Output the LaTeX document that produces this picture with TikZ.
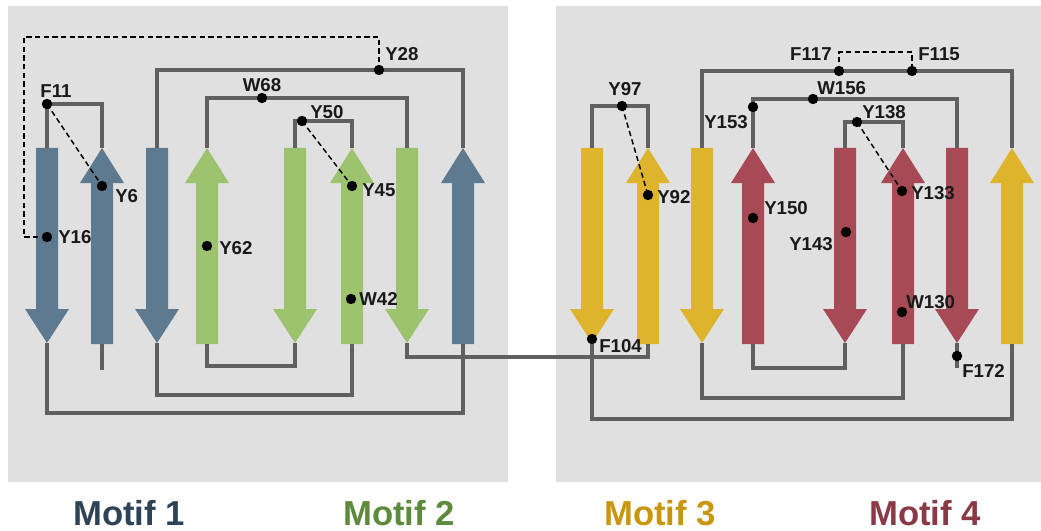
\documentclass[tikz,border=0pt]{standalone}
\usepackage{fontspec}
\setmainfont{Liberation Sans}
\definecolor{panel}{HTML}{E0E0E0}
\definecolor{sblue}{HTML}{5E7A91}
\definecolor{sgreen}{HTML}{9DC36F}
\definecolor{syellow}{HTML}{DDB42B}
\definecolor{sred}{HTML}{A84A55}
\definecolor{conncol}{HTML}{606060}
\definecolor{mone}{HTML}{2E4456}
\definecolor{mtwo}{HTML}{5E8A3C}
\definecolor{mthree}{HTML}{C9960E}
\definecolor{mfour}{HTML}{8A3A45}
\newcommand\strandU[3]{%
  \fill[#3] (#2-11,344) -- (#2-11,183) -- (#2-22,183) -- (#2,148) -- (#2+22,183) -- (#2+11,183) -- (#2+11,344) -- cycle;
  \coordinate (#1t) at (#2,148); \coordinate (#1b) at (#2,344);}
\newcommand\strandD[3]{%
  \fill[#3] (#2-11,148) -- (#2+11,148) -- (#2+11,309) -- (#2+22,309) -- (#2,343) -- (#2-22,309) -- (#2-11,309) -- cycle;
  \coordinate (#1t) at (#2,148); \coordinate (#1b) at (#2,343);}
\begin{document}
\begin{tikzpicture}[x=0.75pt,y=-0.75pt,
  conn/.style={draw=conncol,line width=3pt},
  dashline/.style={draw=black,line width=1.1pt,dash pattern=on 4pt off 2.5pt},
  dot/.style={circle,fill=black,inner sep=0pt,minimum size=7.8pt},
  lab/.style={inner sep=0pt,font=\bfseries\fontsize{14}{15}\selectfont,text=black!90},
  motif/.style={inner sep=0pt,font=\bfseries\fontsize{26}{28}\selectfont}]
\useasboundingbox (0,0) rectangle (1041,531);
\fill[white] (0,0) rectangle (1041,531);
\fill[panel] (8,6) rectangle (508,482);
\fill[panel] (556,6) rectangle (1041,482);
% strands left
\strandD{L1}{47}{sblue}
\strandU{L2}{102}{sblue}
\strandD{L3}{157}{sblue}
\strandU{L4}{207}{sgreen}
\strandD{L5}{295}{sgreen}
\strandU{L6}{352}{sgreen}
\strandD{L7}{407}{sgreen}
\strandU{L8}{463}{sblue}
% strands right
\strandD{R1}{592}{syellow}
\strandU{R2}{648}{syellow}
\strandD{R3}{702}{syellow}
\strandU{R4}{753}{sred}
\strandD{R5}{845}{sred}
\strandU{R6}{903}{sred}
\strandD{R7}{957}{sred}
\strandU{R8}{1012}{syellow}
% connectors left
\draw[conn] (L1t) -- ++(0,-44) -| (L2t);
\draw[conn] (L3t) -- ++(0,-78) -| (L8t);
\draw[conn] (L4t) -- ++(0,-50) -| (L7t);
\draw[conn] (L5t) -- ++(0,-27) -| (L6t);
\draw[conn] (L4b) -- ++(0,22) -| (L5b);
\draw[conn] (L3b) -- ++(0,52) -| (L6b);
\draw[conn] (L1b) -- ++(0,70) -| (L8b);
\coordinate (L2e) at (102,370);
\draw[conn] (L2b) -- (L2e);
\draw[conn] (L7b) -- ++(0,14) -| (R2b);
% connectors right
\draw[conn] (R1t) -- ++(0,-42) -| (R2t);
\draw[conn] (R3t) -- ++(0,-77) -| (R8t);
\draw[conn] (R4t) -- ++(0,-49) -| (R7t);
\draw[conn] (R5t) -- ++(0,-26) -| (R6t);
\draw[conn] (R4b) -- ++(0,24) -| (R5b);
\draw[conn] (R3b) -- ++(0,55) -| (R6b);
\draw[conn] (R1b) -- ++(0,76) -| (R8b);
\coordinate (R7e) at (957,368);
\draw[conn] (R7b) -- (R7e);
% dots
\node[dot] (dF11) at (47,104) {};
\node[dot] (dY6) at (102,186) {};
\node[dot] (dY16) at (47,237) {};
\node[dot] (dY28) at (379,70) {};
\node[dot] (dW68) at (262,98) {};
\node[dot] (dY50) at (302,121) {};
\node[dot] (dY45) at (352,186) {};
\node[dot] (dY62) at (207,246) {};
\node[dot] (dW42) at (351,299) {};
\node[dot] (dY97) at (622,106) {};
\node[dot] (dY92) at (648,195) {};
\node[dot] (dF117) at (839,71) {};
\node[dot] (dF115) at (912,71) {};
\node[dot] (dW156) at (813,99) {};
\node[dot] (dY153) at (753,107) {};
\node[dot] (dY138) at (857,122) {};
\node[dot] (dY133) at (902,191) {};
\node[dot] (dY150) at (753,218) {};
\node[dot] (dY143) at (846,232) {};
\node[dot] (dW130) at (902,312) {};
\node[dot] (dF104) at (592,339) {};
\node[dot] (dF172) at (957,356) {};
% dashed
\coordinate (k1) at (24,237);
\coordinate (k2) at (24,37);
\coordinate (k3) at (379,37);
\draw[dashline] (dY16.center) -- (k1) -- (k2) -- (k3) -- (dY28.center);
\draw[dashline] (dF11.center) -- (dY6.center);
\draw[dashline] (dY50.center) -- (dY45.center);
\draw[dashline] (dY97.center) -- (dY92.center);
\draw[dashline] (dY138.center) -- (dY133.center);
\coordinate (k4) at (839,52);
\coordinate (k5) at (912,52);
\draw[dashline] (dF117.center) -- (k4) -- (k5) -- (dF115.center);
% labels
\node[lab] (tF11) at (56,91) {F11};
\node[lab,anchor=west] (tY6) at (115,196) {Y6};
\node[lab,anchor=west] (tY16) at (58,237) {Y16};
\node[lab,anchor=west] (tY28) at (385,54) {Y28};
\node[lab] (tW68) at (262,85) {W68};
\node[lab,anchor=west] (tY50) at (310,112) {Y50};
\node[lab,anchor=west] (tY45) at (362,190) {Y45};
\node[lab,anchor=west] (tY62) at (219,248) {Y62};
\node[lab,anchor=west] (tW42) at (359,299) {W42};
\node[lab] (tY97) at (625,89) {Y97};
\node[lab,anchor=west] (tY92) at (657,197) {Y92};
\node[lab,anchor=east] (tF117) at (832,54) {F117};
\node[lab,anchor=west] (tF115) at (918,54) {F115};
\node[lab,anchor=west] (tW156) at (817,88) {W156};
\node[lab,anchor=west] (tY153) at (704,122) {Y153};
\node[lab,anchor=west] (tY138) at (862,112) {Y138};
\node[lab,anchor=west] (tY133) at (911,193) {Y133};
\node[lab,anchor=west] (tY150) at (764,208) {Y150};
\node[lab,anchor=west] (tY143) at (789,244) {Y143};
\node[lab,anchor=west] (tW130) at (906,302) {W130};
\node[lab,anchor=west] (tF104) at (599,346) {F104};
\node[lab,anchor=west] (tF172) at (962,371) {F172};
% motif titles
\node[motif,text=mone] (m1) at (129,513) {Motif 1};
\node[motif,text=mtwo] (m2) at (399,513) {Motif 2};
\node[motif,text=mthree] (m3) at (660,513) {Motif 3};
\node[motif,text=mfour] (m4) at (925,513) {Motif 4};
\end{tikzpicture}
\end{document}
